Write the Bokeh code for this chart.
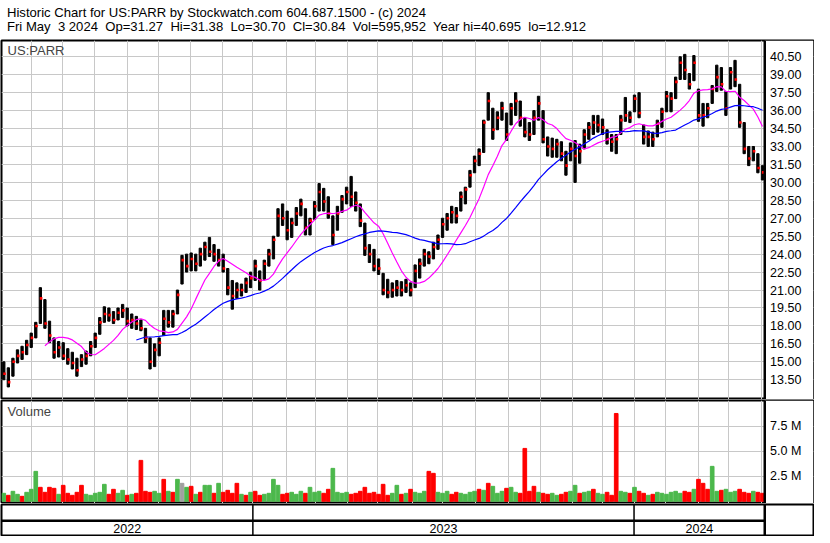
import pandas as pd
from bokeh.plotting import figure
from bokeh.layouts import column
from bokeh.models import Div, Range1d, FixedTicker, Label, Span, BoxAnnotation
from bokeh.core.properties import value
from bokeh.embed import file_html
from bokeh.resources import INLINE

# ---------------- data (3-trading-day bars) ----------------
HIGH = [15.0, 14.5, 15.3, 16.0, 16.3, 16.8, 17.4, 18.3, 21.2, 20.2,
        18.4, 17.0, 16.7, 16.6, 16.1, 15.8, 15.3, 15.6, 15.9, 16.7,
        17.4, 18.7, 19.6, 19.5, 19.2, 19.5, 19.8, 19.5, 19.0, 18.8,
        18.5, 17.8, 17.0, 16.5, 17.0, 19.3, 19.3, 19.3, 21.0, 23.9,
        24.0, 24.1, 24.0, 24.5, 25.0, 25.4, 24.8, 24.4, 24.0, 22.8,
        21.8, 21.6, 21.5, 22.0, 22.5, 23.5, 22.6, 23.5, 24.4, 25.5,
        27.8, 28.2, 27.6, 27.0, 27.9, 28.6, 27.8, 27.0, 28.4, 29.9,
        29.5, 28.8, 27.2, 28.0, 28.9, 29.6, 30.5, 29.2, 28.2, 26.6,
        24.8, 24.4, 23.6, 22.4, 21.9, 21.6, 21.8, 21.7, 21.9, 21.6,
        23.1, 23.6, 24.4, 24.2, 25.0, 25.6, 27.0, 27.4, 28.0, 27.9,
        29.2, 29.6, 31.0, 32.2, 32.8, 35.2, 37.5, 36.2, 35.9, 36.7,
        35.8, 36.6, 37.5, 36.8, 35.4, 35.0, 36.0, 37.2, 36.0, 33.8,
        33.7, 33.6, 33.4, 32.6, 33.3, 33.5, 33.2, 34.4, 35.0, 35.6,
        35.6, 35.3, 34.4, 34.0, 34.0, 35.6, 37.1, 35.9, 37.3, 37.5,
        34.8, 34.3, 34.2, 35.2, 36.2, 37.6, 37.5, 38.8, 40.5, 40.7,
        39.1, 40.6, 37.8, 36.6, 36.6, 38.1, 39.8, 39.6, 37.6, 39.6,
        40.2, 38.2, 35.0, 33.0, 33.0, 32.4, 31.4]
LOW = [13.5, 12.9, 13.8, 14.9, 15.2, 15.6, 16.2, 17.0, 18.2, 17.8,
       16.6, 15.3, 15.4, 15.2, 14.8, 14.4, 13.8, 14.6, 14.8, 15.5,
       16.2, 17.3, 18.3, 18.4, 18.2, 18.5, 18.7, 18.0, 17.8, 17.7,
       17.6, 16.6, 14.4, 14.6, 15.5, 17.2, 17.9, 17.9, 19.0, 21.5,
       22.5, 22.6, 22.6, 23.0, 23.5, 23.8, 23.4, 23.0, 22.5, 20.6,
       19.4, 20.3, 20.5, 20.8, 21.2, 21.8, 21.0, 21.9, 23.0, 23.6,
       25.5, 26.4, 25.2, 25.4, 26.4, 27.2, 25.6, 25.6, 26.9, 27.6,
       27.6, 27.0, 24.8, 26.0, 27.5, 28.2, 28.0, 27.6, 26.3, 23.9,
       23.3, 22.6, 22.3, 20.6, 20.35, 20.4, 20.5, 20.5, 20.8, 20.5,
       21.2, 22.0, 23.0, 23.2, 23.6, 24.4, 25.4, 26.0, 26.6, 26.6,
       27.6, 28.2, 29.6, 30.8, 31.4, 32.5, 35.2, 33.6, 34.4, 35.2,
       33.5, 34.8, 35.6, 34.7, 33.8, 33.5, 34.0, 35.2, 33.3, 32.2,
       32.1, 32.1, 31.8, 30.6, 31.8, 30.0, 31.6, 32.8, 33.6, 34.0,
       34.2, 34.0, 33.2, 32.6, 32.4, 34.0, 35.1, 35.0, 35.9, 35.4,
       33.2, 33.0, 33.0, 33.8, 34.6, 35.9, 35.9, 37.0, 38.6, 38.6,
       37.8, 38.5, 35.1, 34.7, 35.4, 36.6, 37.6, 37.7, 35.6, 37.8,
       38.0, 34.6, 32.4, 31.4, 31.8, 30.8, 30.2]
CLOSE = [14.0, 13.3, 15.0, 15.5, 15.8, 16.4, 17.0, 18.0, 20.3, 18.2,
         17.2, 15.8, 16.2, 15.5, 15.2, 14.9, 14.3, 15.2, 15.5, 16.3,
         17.0, 18.3, 19.0, 18.9, 18.5, 19.1, 19.3, 18.4, 18.5, 18.2,
         17.8, 17.0, 15.0, 16.0, 16.6, 18.6, 18.3, 19.0, 20.6, 23.5,
         23.0, 23.6, 23.2, 24.0, 24.6, 24.2, 24.0, 23.5, 22.8, 21.2,
         20.5, 21.0, 21.0, 21.6, 22.0, 23.0, 21.8, 23.2, 24.0, 25.2,
         27.2, 27.0, 26.0, 26.6, 27.4, 28.2, 26.2, 26.8, 28.0, 29.2,
         28.4, 27.4, 25.6, 27.4, 28.6, 29.2, 28.8, 28.3, 26.8, 24.5,
         24.0, 23.0, 22.8, 21.0, 20.8, 21.0, 21.2, 21.0, 21.4, 21.0,
         22.6, 23.2, 24.0, 23.8, 24.6, 25.2, 26.5, 27.0, 27.5, 27.2,
         28.8, 29.4, 30.6, 31.8, 32.4, 35.0, 36.8, 34.4, 35.4, 36.2,
         34.0, 36.2, 36.8, 35.4, 34.2, 34.0, 35.4, 36.6, 33.6, 33.0,
         32.8, 33.2, 32.4, 31.4, 32.8, 32.2, 32.6, 34.0, 34.6, 35.0,
         34.8, 34.6, 33.6, 33.4, 33.6, 35.2, 35.6, 35.4, 37.0, 35.8,
         33.8, 33.8, 33.6, 34.9, 35.9, 37.2, 37.0, 38.4, 40.0, 39.4,
         38.2, 40.0, 35.6, 35.6, 36.2, 37.8, 38.8, 38.2, 36.2, 39.2,
         38.6, 35.0, 32.8, 32.0, 32.6, 31.2, 30.84]
VOLUME_M = [0.8, 0.6, 1.0, 0.7, 0.5, 0.9, 1.2, 3.0, 1.4, 0.9,
            1.4, 1.3, 0.7, 1.6, 0.8, 0.6, 0.9, 1.6, 0.7, 0.6,
            0.8, 0.9, 1.7, 0.7, 1.2, 0.8, 1.1, 0.6, 0.7, 0.8,
            4.1, 1.0, 0.9, 1.0, 0.8, 2.2, 1.0, 0.9, 2.2, 1.8,
            1.4, 1.5, 0.7, 0.9, 1.6, 1.6, 0.8, 1.8, 0.9, 1.1,
            0.8, 1.8, 0.7, 0.6, 0.9, 1.0, 0.6, 0.7, 0.8, 2.2,
            1.6, 0.7, 0.8, 0.9, 0.7, 1.0, 0.8, 1.4, 0.9, 1.0,
            0.8, 1.2, 3.3, 0.9, 0.8, 0.9, 0.7, 0.8, 1.0, 1.4,
            0.8, 0.9, 0.7, 1.7, 0.6, 0.8, 1.6, 0.7, 0.8, 1.2,
            0.9, 0.8, 1.0, 3.0, 2.8, 0.9, 0.8, 1.0, 0.7, 0.9,
            0.8, 0.7, 0.9, 1.0, 1.2, 1.1, 1.8, 1.5, 0.8, 1.0,
            1.3, 1.4, 0.9, 0.8, 5.3, 1.0, 1.5, 0.9, 0.8, 0.7,
            0.8, 0.6, 0.7, 0.9, 1.0, 1.6, 0.8, 0.9, 1.0, 1.2,
            0.8, 0.7, 0.9, 0.6, 8.8, 1.0, 0.9, 0.8, 1.4, 1.0,
            0.8, 0.6, 0.7, 0.9, 0.8, 0.7, 0.9, 1.0, 0.8, 1.0,
            0.9, 1.2, 2.2, 1.8, 1.2, 3.5, 1.0, 1.1, 1.2, 0.9,
            1.0, 1.2, 0.9, 0.8, 1.0, 0.9, 0.8]
VOL_DIR = ("grgg rgggrr" "rrgrrrrrgg" "ggg rrggrgr" "rrrggrgrgn" "grgrggrgrr"
           "rrgrgrrggg" "grrgggrggg" "rrggggrrrr" "rrrrrggrgr" "gggrrgggrr"
           "ggggrgrggg" "rggrrrrgrr" "ggrrggrggr" "ggrrrggrgr" "rgrggggggr"
           "rgrrrggrgg" "grrrgrr").replace(" ", "")

PRICE_TICKS = [13.5, 15.0, 16.5, 18.0, 19.5, 21.0, 22.5, 24.0, 25.5, 27.0,
               28.5, 30.0, 31.5, 33.0, 34.5, 36.0, 37.5, 39.0, 40.5]
VOL_TICKS = [2.5, 5.0, 7.5]
VOL_TICK_LABELS = ["2.5 M", "5.0 M", "7.5 M"]
MONTH_STARTS = [19.7, 40.3, 60.9, 82.5, 102.8, 123.8, 144.8, 165.0, 186.8, 206.3,
                227.1, 247.0, 269.5, 289.7, 311.1, 332.5, 353.5, 374.9, 394.6,
                415.2, 435.9, 457.4, 477.3, 498.7]
YEAR_STARTS = [0.0, 165.0, 415.2]
YEARS = ["2022", "2023", "2024"]
DAYS_PER_BAR = 3
MA_FAST_DAYS = 30
MA_SLOW_DAYS = 90

HEADER_1 = "Historic Chart for US:PARR by Stockwatch.com 604.687.1500 - (c) 2024"
HEADER_2 = ("Fri May  3 2024  Op=31.27  Hi=31.38  Lo=30.70  Cl=30.84  "
            "Vol=595,952  Year hi=40.695  lo=12.912")

# ---------------- derived ----------------
n = len(CLOSE)
N_DAYS = n * DAYS_PER_BAR
X_END = N_DAYS + 32
xc = [i * DAYS_PER_BAR + DAYS_PER_BAR / 2 for i in range(n)]
ma_fast = pd.Series(CLOSE).rolling(MA_FAST_DAYS // DAYS_PER_BAR).mean()
ma_slow = pd.Series(CLOSE).rolling(MA_SLOW_DAYS // DAYS_PER_BAR).mean()
cmap = {"g": "#4cb84c", "r": "#ff0000", "n": "#a0a0a0"}
vcolors = [cmap[c] for c in VOL_DIR]
year_ends = YEAR_STARTS[1:] + [N_DAYS]
year_centers = [(a + b) / 2 for a, b in zip(YEAR_STARTS, year_ends)]

FONT = "Liberation Sans"
GRID = "#c8c8c8"
W = 814


def base_fig(height, yr, top_border=1, bottom_border=0):
    f = figure(width=W, height=height, x_range=Range1d(0, X_END), y_range=yr,
               output_backend="svg", toolbar_location=None,
               x_axis_location=None, y_axis_location=None,
               min_border_left=1, min_border_right=1,
               min_border_top=top_border, min_border_bottom=bottom_border,
               outline_line_color="black", outline_line_width=2,
               background_fill_color="white", border_fill_color="white")
    f.xgrid.ticker = FixedTicker(ticks=MONTH_STARTS)
    f.grid.grid_line_color = GRID
    f.grid.grid_line_width = 1
    return f


def label_column(f, ticks, labels):
    f.add_layout(BoxAnnotation(left=N_DAYS, fill_color="white", fill_alpha=1,
                               line_color=None))
    f.add_layout(Span(location=N_DAYS, dimension="height", line_color="black",
                      line_width=2.5))
    f.text(x=[N_DAYS + 3.5] * len(ticks), y=ticks, text=labels,
           text_font=value(FONT), text_font_size=value("12.5px"),
           text_color="black", text_baseline="middle", text_align="left",
           level="overlay")


# ---------------- price panel ----------------
p = base_fig(360, Range1d(11.85, 41.86))
p.ygrid.ticker = FixedTicker(ticks=PRICE_TICKS)
p.vbar(x=xc, width=1.5, top=HIGH, bottom=LOW, color="black")
p.scatter(x=[x + 0.5 for x in xc], y=CLOSE, marker="square", size=2.6,
          fill_color="red", line_color=None)
p.line(x=xc, y=ma_fast, line_color="#ff00ff", line_width=1.2)
p.line(x=xc, y=ma_slow, line_color="#0000ff", line_width=1.2)
label_column(p, PRICE_TICKS, [f"{t:.2f}" for t in PRICE_TICKS])
p.add_layout(Label(x=4, y=41.0, text="US:PARR", text_font=FONT,
                   text_font_size="13px", text_baseline="middle"))

# ---------------- volume panel ----------------
v = base_fig(104, Range1d(-0.22, 10.1), top_border=1)
v.ygrid.ticker = FixedTicker(ticks=VOL_TICKS)
v.vbar(x=xc, width=2.4, top=VOLUME_M, bottom=0, color=vcolors)
label_column(v, VOL_TICKS, VOL_TICK_LABELS)
v.add_layout(Label(x=4, y=9.0, text="Volume", text_font=FONT,
                   text_font_size="13px", text_baseline="middle"))

# ---------------- date rows ----------------
d = base_fig(33, Range1d(0, 2), top_border=1, bottom_border=1)
d.grid.visible = False
d.segment(x0=[0], x1=[N_DAYS], y0=[0.95], y1=[0.95], line_color="black",
          line_width=2.5)
d.segment(x0=YEAR_STARTS[1:], x1=YEAR_STARTS[1:], y0=[0] * 2, y1=[2] * 2,
          line_color="black", line_width=1.5)
d.add_layout(Span(location=N_DAYS, dimension="height", line_color="black",
                  line_width=2.5))
d.text(x=year_centers, y=[0.45] * 3, text=YEARS, text_font=value(FONT),
       text_font_size=value("12.5px"), text_align="center",
       text_baseline="middle", text_color="black")

header = Div(text=f"<div>{HEADER_1}</div><div>{HEADER_2}</div>", width=W, height=29,
             styles={"font-family": FONT, "font-size": "13.1px",
                     "line-height": "14px", "white-space": "pre",
                     "color": "black", "padding-left": "2px",
                     "padding-top": "1px"})

layout = column(header, p, v, d, spacing=0)
open("out.html", "w").write(file_html(layout, INLINE))
